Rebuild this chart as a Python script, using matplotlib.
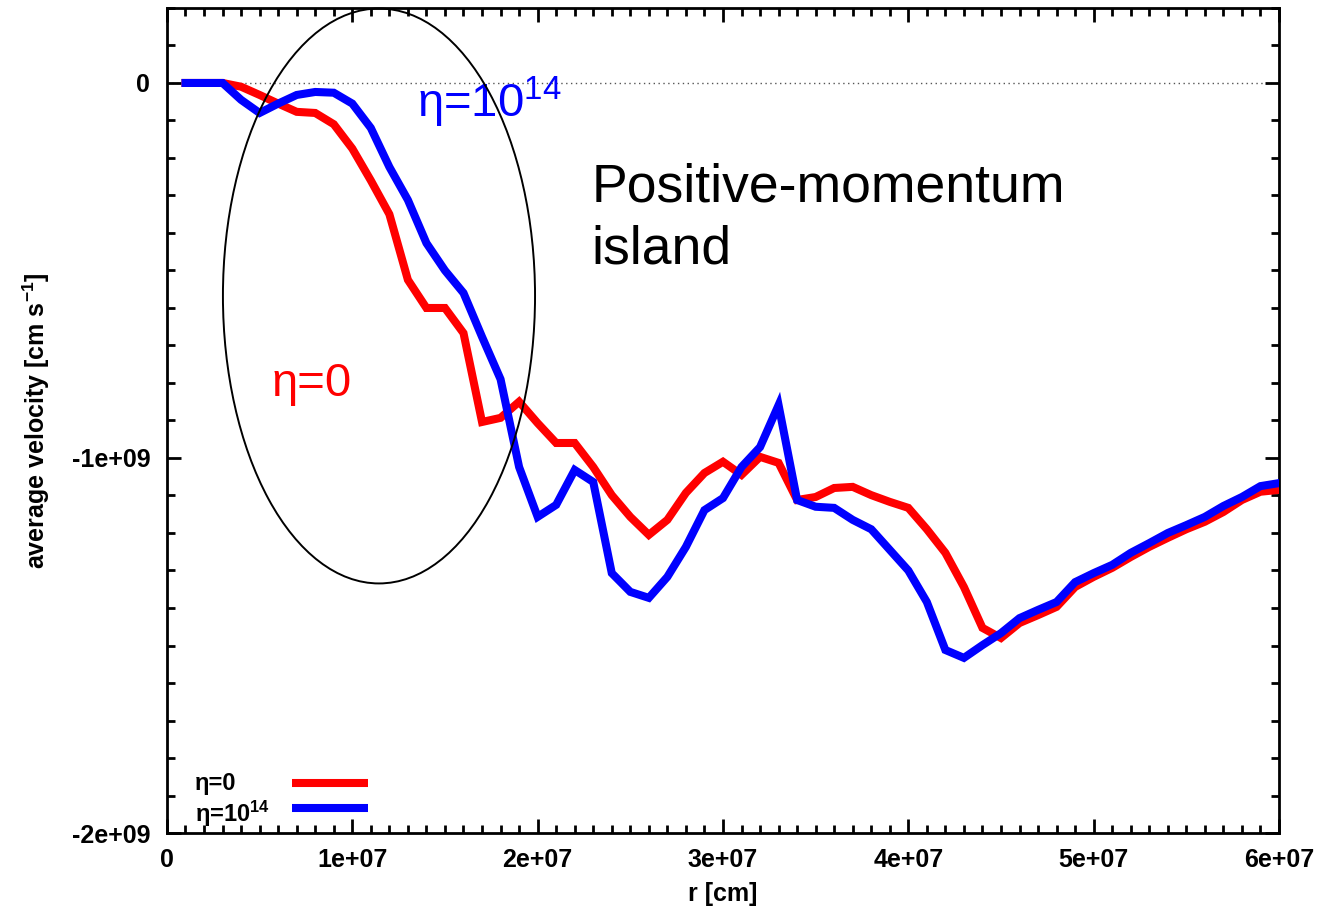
import matplotlib

matplotlib.use("Agg")
import matplotlib.pyplot as plt
import numpy as np
from matplotlib.lines import Line2D
from matplotlib.patches import Ellipse
from matplotlib.ticker import MultipleLocator, FuncFormatter

plt.rcParams["font.family"] = ["Liberation Sans", "DejaVu Sans"]
plt.rcParams["mathtext.fontset"] = "custom"
plt.rcParams["mathtext.rm"] = "Liberation Sans"
plt.rcParams["mathtext.bf"] = "Liberation Sans:bold"
plt.rcParams["mathtext.it"] = "Liberation Sans:italic"

# radius grid [cm]
r_cm = np.arange(1, 61) * 1e6

# mean radial velocity [cm/s], eta = 0
v_eta0 = np.array([
    0.0, 0.0, 0.0, -0.01, -0.032, -0.055, -0.077, -0.08, -0.11, -0.175,
    -0.26, -0.35, -0.525, -0.6, -0.6, -0.667, -0.904, -0.893, -0.85, -0.907,
    -0.96, -0.96, -1.024, -1.099, -1.157, -1.205, -1.165, -1.093, -1.04, -1.01,
    -1.045, -0.997, -1.013, -1.112, -1.104, -1.08, -1.077, -1.099, -1.117, -1.133,
    -1.19, -1.253, -1.344, -1.453, -1.48, -1.44, -1.419, -1.397, -1.344, -1.317,
    -1.293, -1.264, -1.237, -1.213, -1.19, -1.17, -1.144, -1.112, -1.09, -1.085,
]) * 1e9

# mean radial velocity [cm/s], eta = 1e14
v_eta14 = np.array([
    0.0, 0.0, 0.0, -0.045, -0.08, -0.055, -0.032, -0.024, -0.026, -0.055,
    -0.12, -0.224, -0.312, -0.427, -0.5, -0.56, -0.677, -0.79, -1.024, -1.157,
    -1.125, -1.032, -1.064, -1.307, -1.357, -1.373, -1.317, -1.237, -1.139, -1.107,
    -1.024, -0.971, -0.859, -1.112, -1.13, -1.133, -1.165, -1.19, -1.245, -1.3,
    -1.384, -1.512, -1.533, -1.499, -1.467, -1.427, -1.405, -1.384, -1.331, -1.307,
    -1.285, -1.253, -1.227, -1.2, -1.179, -1.157, -1.128, -1.104, -1.075, -1.067,
]) * 1e9

series_labels = [r"η=0", r"η=10$^{\mathbf{14}}$"]
series_colors = ["#ff0000", "#0000ff"]

# region marked on the plot (centre, width, height in data units)
island_xy = (11.44e6, -0.568e9)
island_w = 16.84e6
island_h = 1.533e9

fig = plt.figure(figsize=(13.24, 9.15), dpi=100)
ax = fig.add_axes([0.1261, 0.0896, 0.8399, 0.9017])

ax.axhline(0, color="#555555", ls=(0, (1, 2.5)), lw=1.0, zorder=1)
ax.plot(r_cm, v_eta0, color=series_colors[0], lw=5.8, solid_joinstyle="miter", zorder=3)
ax.plot(r_cm, v_eta14, color=series_colors[1], lw=5.8, solid_joinstyle="miter", zorder=4)

ax.add_patch(Ellipse(island_xy, island_w, island_h, fill=False, ec="black",
                     lw=1.4, clip_on=False, zorder=5))

ax.set_xlim(0, 6e7)
ax.set_ylim(-2e9, 0.2e9)
ax.xaxis.set_major_locator(MultipleLocator(1e7))
ax.xaxis.set_minor_locator(MultipleLocator(1e6))
ax.yaxis.set_major_locator(MultipleLocator(1e9))
ax.yaxis.set_minor_locator(MultipleLocator(1e8))


def gp_fmt(v, pos):
    # gnuplot-style exponent labels: 1e+07, -2e+09
    if v == 0:
        return "0"
    m, e = f"{v:.0e}".split("e")
    return f"{m}e{e[0]}{int(e[1:]):02d}"


ax.xaxis.set_major_formatter(FuncFormatter(gp_fmt))
ax.yaxis.set_major_formatter(FuncFormatter(gp_fmt))
ax.tick_params(which="both", direction="in", top=True, right=True, width=2.0,
               labelsize=18)
ax.tick_params(which="major", length=10)
ax.tick_params(which="minor", length=6)
ax.tick_params(axis="x", pad=11)
ax.tick_params(axis="y", pad=12)
for lab in ax.get_xticklabels() + ax.get_yticklabels():
    lab.set_fontweight("bold")
for s in ax.spines.values():
    s.set_linewidth(2.0)

ax.set_xlabel("r [cm]", fontsize=18, fontweight="bold", labelpad=7)
ax.set_ylabel(r"average velocity [cm s$^{\mathbf{-1}}$]", fontsize=18,
              fontweight="bold", labelpad=14)

ax.text(0.382, 0.745, "Positive-momentum\nisland", transform=ax.transAxes,
        fontsize=38.5, va="center", ha="left", linespacing=1.3)
ax.text(0.225, 0.886, r"η=10$^{\mathrm{14}}$", transform=ax.transAxes,
        fontsize=34, color="#0000ff", va="center", ha="left")
ax.text(0.094, 0.544, "η=0", transform=ax.transAxes,
        fontsize=34, color="#ff0000", va="center", ha="left")

# key in the lower-left corner: label left-aligned, sample line to its right
key_rows = [0.0606, 0.0303]
key_text_dy = [-0.001, -0.007]
for label, color, yk, dy in zip(series_labels, series_colors, key_rows, key_text_dy):
    ax.text(0.0252, yk + dy, label, transform=ax.transAxes, fontsize=17,
            fontweight="bold", va="center", ha="left")
    ax.add_line(Line2D([0.1124, 0.1808], [yk, yk], transform=ax.transAxes,
                       color=color, lw=5.8, solid_capstyle="butt"))

fig.savefig("out.png", dpi=100)
